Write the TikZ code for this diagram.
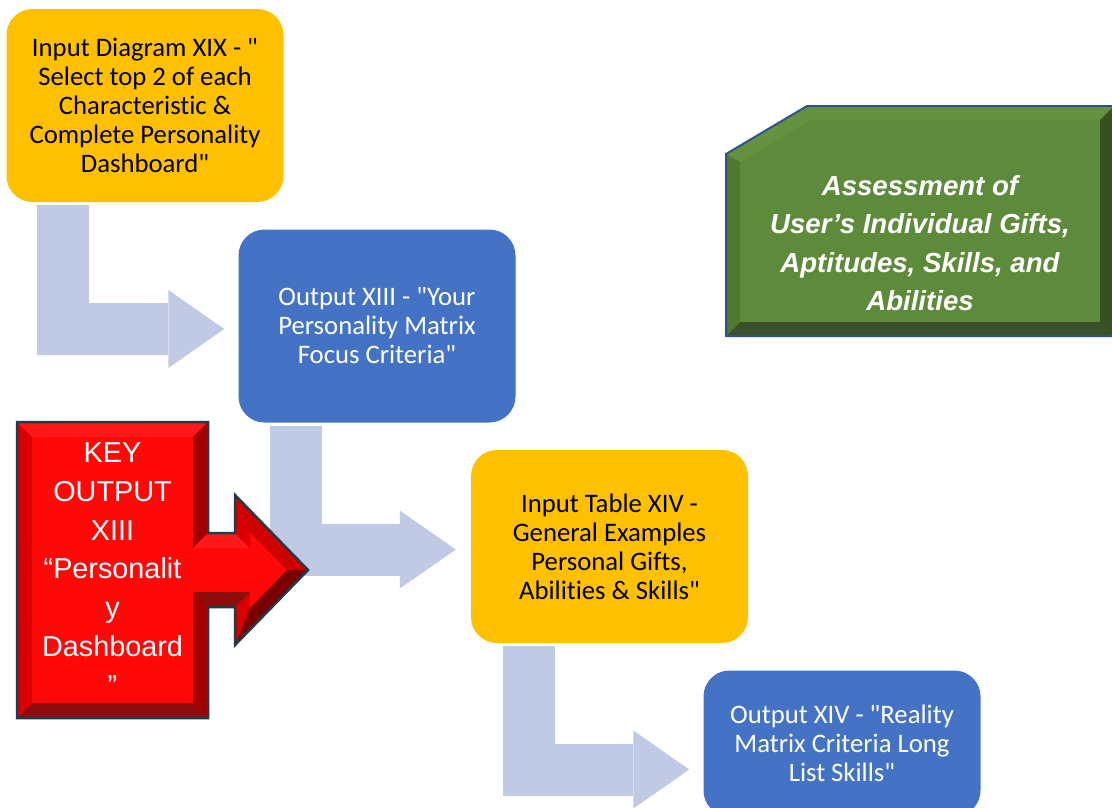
\documentclass[tikz,border=0pt]{standalone}
\usepackage{fontspec}
\setmainfont{Carlito}[Ligatures={NoCommon}]
\newfontfamily\libsans{Liberation Sans}
\usetikzlibrary{arrows.meta,calc}
\definecolor{boxorange}{HTML}{FFC000}
\definecolor{boxblue}{HTML}{4472C4}
\definecolor{arrowgray}{HTML}{C0CAE4}
\definecolor{redface}{HTML}{FF0808}
\definecolor{redtop}{HTML}{FF1818}
\definecolor{redleft}{HTML}{DA0000}
\definecolor{redright}{HTML}{A50000}
\definecolor{redbottom}{HTML}{8C0D0D}
\definecolor{reddiagup}{HTML}{CC0000}
\definecolor{reddiagdn}{HTML}{7A0000}
\definecolor{redline}{HTML}{203B4C}
\definecolor{greenface}{HTML}{5E8B3B}
\definecolor{greentop}{HTML}{64923F}
\definecolor{greenleft}{HTML}{4D7A2E}
\definecolor{greenright}{HTML}{384F22}
\definecolor{greenbottom}{HTML}{3B5127}
\definecolor{greenline}{HTML}{2F528F}
\newcommand{\dq}{\textquotedbl}
\begin{document}
\begin{tikzpicture}[x=1pt,y=-1pt,
  flowbox/.style={rectangle, rounded corners=26pt, minimum width=277pt, minimum height=193pt, inner sep=0pt, align=center, font=\fontsize{26.7}{29}\selectfont},
  inputbox/.style={flowbox, fill=boxorange, text=black},
  outputbox/.style={flowbox, fill=boxblue, text=white},
  bentarrow/.style={draw=arrowgray, line width=52pt, line join=miter, line cap=butt, -{Triangle[length=56pt,width=78pt,line width=0pt]}},
]
\useasboundingbox (0,0) rectangle (1112,807);
\clip (0,0) rectangle (1112,807);

% flow boxes
\node[inputbox] (b1) at (145,105.5) {Input Diagram XIX - \dq\\Select top 2 of each\\Characteristic \&\\Complete Personality\\Dashboard\dq};
\node[outputbox] (b2) at (377,326) {Output XIII - \dq Your\\Personality Matrix\\Focus Criteria\dq};
\node[inputbox] (b3) at (609.5,546.5) {Input Table XIV -\\General Examples\\Personal Gifts,\\Abilities \& Skills\dq};
\node[outputbox, minimum height=146pt] (b4) at (842,743.5) {Output XIV - \dq Reality\\Matrix Criteria Long\\List Skills\dq};

% bent arrows
\draw[bentarrow] ([xshift=57pt,yshift=-3pt]b1.south west) |- ([xshift=-14pt,yshift=-3pt]b2.west);
\draw[bentarrow] ([xshift=58pt,yshift=-3pt]b2.south west) |- ([xshift=-15pt,yshift=-3pt]b3.west);
\draw[bentarrow] ([xshift=58pt,yshift=-3pt]b3.south west) |- ([xshift=-14pt,yshift=-26pt]b4.west);

% green bevelled snip box
\coordinate (G1) at (726,154); \coordinate (G2) at (807,106); \coordinate (G3) at (1114,106);
\coordinate (G4) at (1114,336); \coordinate (G5) at (726,336);
\coordinate (H1) at (740,162); \coordinate (H2) at (811,120); \coordinate (H3) at (1100,120);
\coordinate (H4) at (1100,322); \coordinate (H5) at (740,322);
\fill[greenface] (G1)--(G2)--(G3)--(G4)--(G5)--cycle;
\fill[greentop] (G1)--(G2)--(H2)--(H1)--cycle;
\fill[greentop] (G2)--(G3)--(H3)--(H2)--cycle;
\fill[greenright] (G3)--(G4)--(H4)--(H3)--cycle;
\fill[greenbottom] (G4)--(G5)--(H5)--(H4)--cycle;
\fill[greenleft] (G5)--(G1)--(H1)--(H5)--cycle;
\draw[greenline, line width=2pt] (G1)--(G2)--(G3)--(G4)--(G5)--cycle;
\node[align=center, text=white, font=\libsans\bfseries\itshape\fontsize{27.6}{38.5}\selectfont] (assess) at (920,243) {Assessment of\\User’s Individual Gifts,\\Aptitudes, Skills, and\\Abilities};

% red bevelled arrow callout
\coordinate (P1) at (17,422); \coordinate (P2) at (208,422); \coordinate (P3) at (208,533);
\coordinate (P4) at (235,533); \coordinate (P5) at (235,495); \coordinate (P6) at (308,570);
\coordinate (P7) at (235,645); \coordinate (P8) at (235,607); \coordinate (P9) at (208,607);
\coordinate (P10) at (208,718); \coordinate (P11) at (17,718);
\coordinate (I1) at (32,437); \coordinate (I2) at (193,437); \coordinate (I3) at (193,548);
\coordinate (I4) at (250,548); \coordinate (I5) at (250,532); \coordinate (I6) at (287,570);
\coordinate (I7) at (250,608); \coordinate (I8) at (250,592); \coordinate (I9) at (193,592);
\coordinate (I10) at (193,703); \coordinate (I11) at (32,703);
\fill[redface] (P1)--(P2)--(P3)--(P4)--(P5)--(P6)--(P7)--(P8)--(P9)--(P10)--(P11)--cycle;
\fill[redtop] (P1)--(P2)--(I2)--(I1)--cycle;
\fill[redright] (P2)--(P3)--(I3)--(I2)--cycle;
\fill[redtop] (P3)--(P4)--(I4)--(I3)--cycle;
\fill[redleft] (P4)--(P5)--(I5)--(I4)--cycle;
\fill[reddiagup] (P5)--(P6)--(I6)--(I5)--cycle;
\fill[reddiagdn] (P6)--(P7)--(I7)--(I6)--cycle;
\fill[redleft] (P7)--(P8)--(I8)--(I7)--cycle;
\fill[redbottom] (P8)--(P9)--(I9)--(I8)--cycle;
\fill[redright] (P9)--(P10)--(I10)--(I9)--cycle;
\fill[redbottom] (P10)--(P11)--(I11)--(I10)--cycle;
\fill[redleft] (P11)--(P1)--(I1)--(I11)--cycle;
\draw[redline, line width=2.5pt, line join=miter] (P1)--(P2)--(P3)--(P4)--(P5)--(P6)--(P7)--(P8)--(P9)--(P10)--(P11)--cycle;
\node[align=center, text=white, font=\libsans\fontsize{28.8}{38.7}\selectfont] (key) at (112.5,569) {KEY\\OUTPUT\\XIII\\“Personalit\\y\\Dashboard\\”};
\end{tikzpicture}
\end{document}
